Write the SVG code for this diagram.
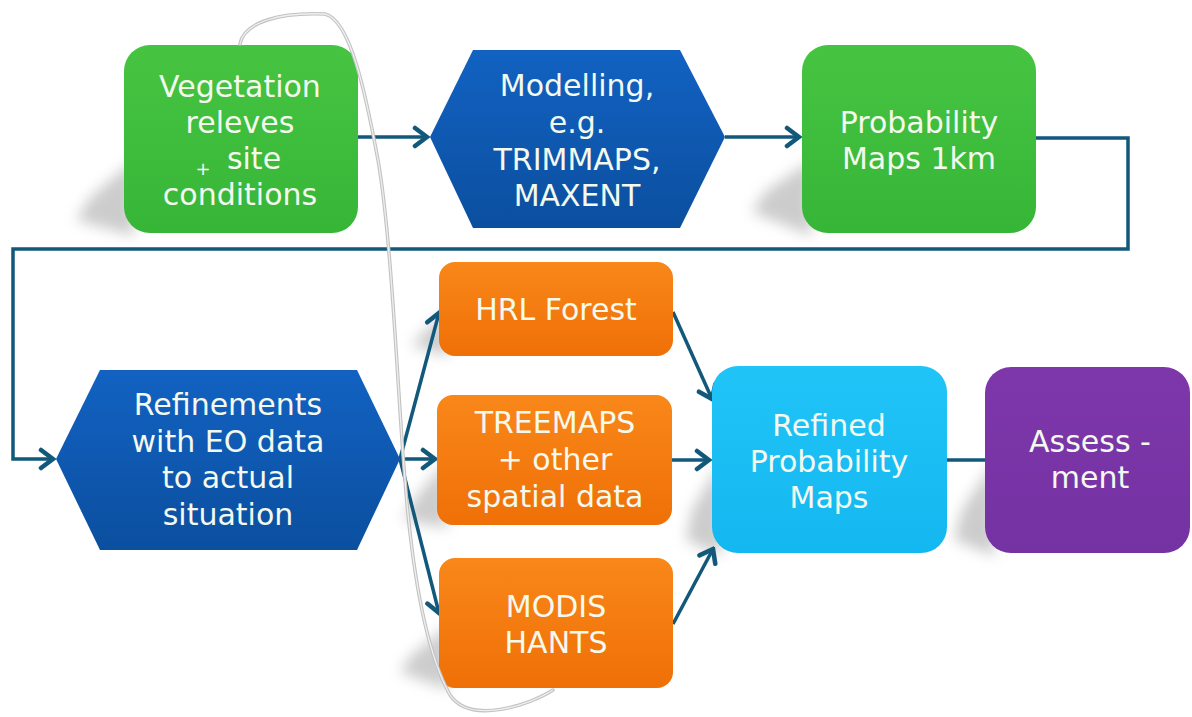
<svg xmlns="http://www.w3.org/2000/svg" width="1192" height="717" viewBox="0 0 1192 717">
  <defs>
    <linearGradient id="gGreen" x1="0" y1="0" x2="0" y2="1">
      <stop offset="0" stop-color="#46c441"/>
      <stop offset="1" stop-color="#37b537"/>
    </linearGradient>
    <linearGradient id="gBlue" x1="0" y1="0" x2="0" y2="1">
      <stop offset="0" stop-color="#1262c2"/>
      <stop offset="1" stop-color="#0b4f9f"/>
    </linearGradient>
    <linearGradient id="gOrange" x1="0" y1="0" x2="0" y2="1">
      <stop offset="0" stop-color="#f9871a"/>
      <stop offset="1" stop-color="#ef7006"/>
    </linearGradient>
    <linearGradient id="gCyan" x1="0" y1="0" x2="0" y2="1">
      <stop offset="0" stop-color="#20c4f7"/>
      <stop offset="1" stop-color="#14b8f0"/>
    </linearGradient>
    <linearGradient id="gPurple" x1="0" y1="0" x2="0" y2="1">
      <stop offset="0" stop-color="#7e37ab"/>
      <stop offset="1" stop-color="#7432a2"/>
    </linearGradient>
    <filter id="blur" x="-50%" y="-50%" width="200%" height="200%">
      <feGaussianBlur stdDeviation="7"/>
    </filter>
    <marker id="arr" markerUnits="userSpaceOnUse" markerWidth="20" markerHeight="24" viewBox="-14 -10 16 20" refX="0" refY="0" orient="auto">
      <path d="M-10,-7.5 L0,0 L-10,7.5" fill="none" stroke="#11587a" stroke-width="3.8" stroke-linecap="round" stroke-linejoin="miter"/>
    </marker>
  </defs>
  <style>
    .lbl { font-family: "DejaVu Sans", Verdana, sans-serif; font-size: 30px; fill: #f4f9ee; text-anchor: middle; }
    .con { fill: none; stroke: #11587a; stroke-width: 3.5; }
    .shadow { fill: #9a9a9a; opacity: 0.5; filter: url(#blur); }
  </style>

  <rect width="1192" height="717" fill="#ffffff"/>

  <!-- shadows -->
  <g id="shadows">
    <polygon class="shadow" points="134,160 90,198 76,220 134,236"/>
    <polygon class="shadow" points="812,160 765,192 752,212 812,236"/>
    <polygon class="shadow" points="449,310 422,334 412,346 449,356"/>
    <polygon class="shadow" points="447,460 414,500 404,520 447,528"/>
    <polygon class="shadow" points="449,625 412,655 400,672 449,690"/>
    <polygon class="shadow" points="722,460 692,510 686,540 722,556"/>
    <polygon class="shadow" points="995,460 962,510 954,540 995,556"/>
  </g>

  <!-- connectors -->
  <g id="connectors">
    <path class="con" d="M358,137 H427" marker-end="url(#arr)"/>
    <path class="con" d="M725,137 H799" marker-end="url(#arr)"/>
    <path class="con" d="M1036,138 H1128 V249 H13 V459 H53" marker-end="url(#arr)"/>
    <path class="con" d="M400,459 L439,313" marker-end="url(#arr)"/>
    <path class="con" d="M400,459 H435" marker-end="url(#arr)"/>
    <path class="con" d="M400,459 L439,613" marker-end="url(#arr)"/>
    <path class="con" d="M673,312 L712,399" marker-end="url(#arr)"/>
    <path class="con" d="M672,460 H709" marker-end="url(#arr)"/>
    <path class="con" d="M673,624 L713,549" marker-end="url(#arr)"/>
    <path class="con" d="M947,460 H986"/>
  </g>

  <g id="vegetation">
    <rect x="124" y="45" width="234" height="188" rx="26" fill="url(#gGreen)"/>
    <text class="lbl"><tspan x="240" y="97">Vegetation</tspan><tspan x="240" y="133">releves</tspan><tspan x="254" y="169">site</tspan><tspan x="240" y="205">conditions</tspan></text>
    <text x="203" y="175" style="font-family: 'DejaVu Sans', Verdana, sans-serif; font-size: 18px; fill: #f4f9ee; text-anchor: middle;">+</text>
  </g>

  <g id="modelling">
    <polygon points="430,137 473,50 680,50 725,137 680,228 473,228" fill="url(#gBlue)"/>
    <text class="lbl"><tspan x="577" y="96">Modelling,</tspan><tspan x="577" y="133">e.g.</tspan><tspan x="577" y="170">TRIMMAPS,</tspan><tspan x="577" y="206">MAXENT</tspan></text>
  </g>

  <g id="probability">
    <rect x="802" y="45" width="234" height="188" rx="26" fill="url(#gGreen)"/>
    <text class="lbl"><tspan x="919" y="133">Probability</tspan><tspan x="919" y="169">Maps 1km</tspan></text>
  </g>

  <g id="refinements">
    <polygon points="56,459 100,370 357,370 400,459 357,550 100,550" fill="url(#gBlue)"/>
    <text class="lbl"><tspan x="228" y="415">Refinements</tspan><tspan x="228" y="452">with EO data</tspan><tspan x="228" y="488">to actual</tspan><tspan x="228" y="525">situation</tspan></text>
  </g>

  <g id="hrl">
    <rect x="439" y="262" width="234" height="94" rx="16" fill="url(#gOrange)"/>
    <text class="lbl" x="556" y="320">HRL Forest</text>
  </g>

  <g id="treemaps">
    <rect x="437" y="395" width="235" height="130" rx="16" fill="url(#gOrange)"/>
    <text class="lbl"><tspan x="555" y="433">TREEMAPS</tspan><tspan x="555" y="470">+ other</tspan><tspan x="555" y="507">spatial data</tspan></text>
  </g>

  <g id="modis">
    <rect x="439" y="558" width="234" height="130" rx="16" fill="url(#gOrange)"/>
    <text class="lbl"><tspan x="556" y="617">MODIS</tspan><tspan x="556" y="653">HANTS</tspan></text>
  </g>

  <g id="refined">
    <rect x="712" y="366" width="235" height="187" rx="26" fill="url(#gCyan)"/>
    <text class="lbl"><tspan x="829" y="436">Refined</tspan><tspan x="829" y="472">Probability</tspan><tspan x="829" y="508">Maps</tspan></text>
  </g>

  <g id="assessment">
    <rect x="985" y="367" width="205" height="186" rx="26" fill="url(#gPurple)"/>
    <text class="lbl"><tspan x="1090" y="452">Assess -</tspan><tspan x="1090" y="488">ment</tspan></text>
  </g>

  <!-- freehand grey loop -->
  <g id="loop" fill="none" stroke-linecap="round">
    <path d="M240,44 C244,22 280,12 325,14 C350,20 365,90 378,160 C392,240 398,400 405,480 C412,570 425,650 450,695 C470,725 530,705 553,690" stroke="#c2c2c2" stroke-width="3.5"/>
    <path d="M240,44 C244,22 280,12 325,14 C350,20 365,90 378,160 C392,240 398,400 405,480 C412,570 425,650 450,695 C470,725 530,705 553,690" stroke="#efefef" stroke-width="1.3"/>
  </g>
</svg>
